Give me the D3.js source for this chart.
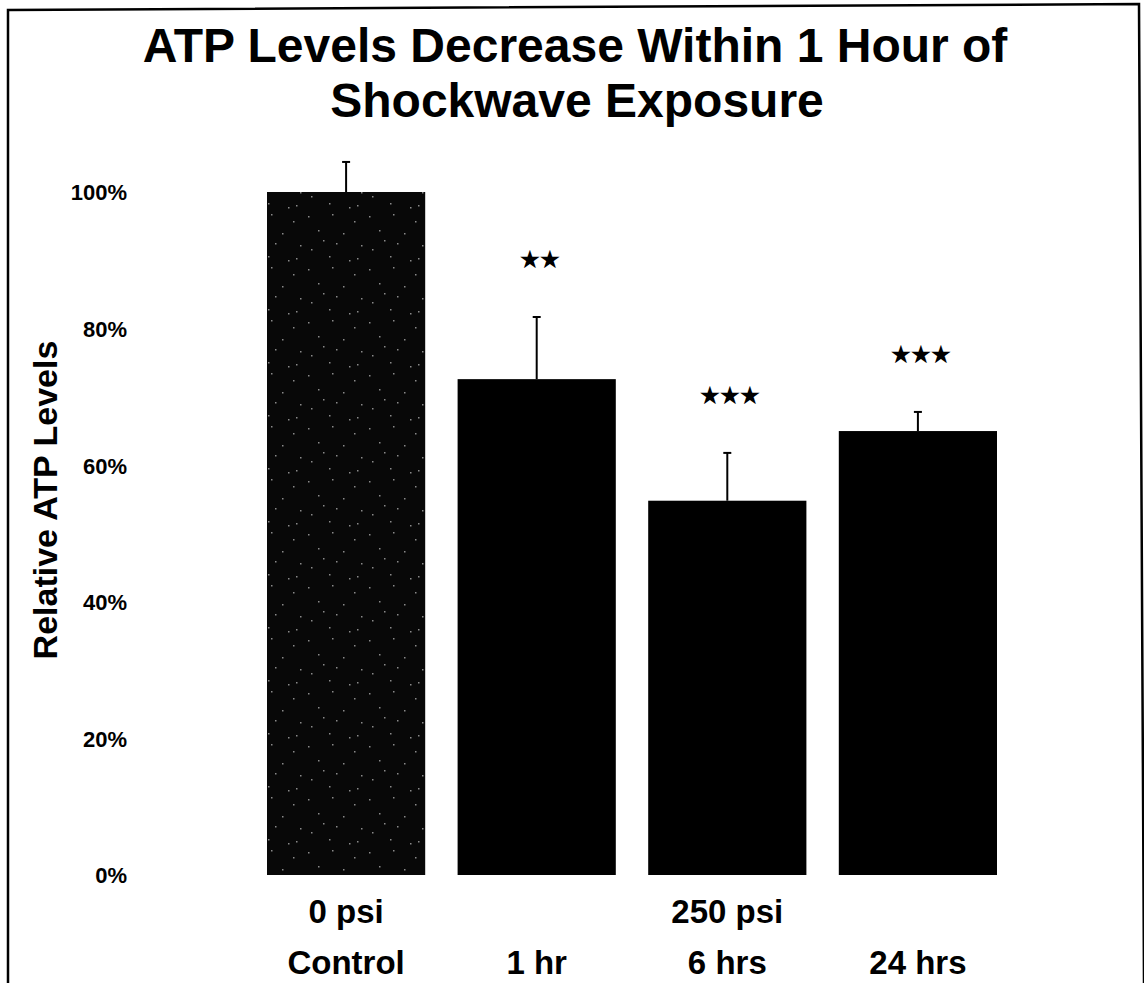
<!DOCTYPE html>
<html>
<head>
<meta charset="utf-8">
<script src="https://cdn.jsdelivr.net/npm/d3@7"></script>
<style>
  html, body { margin: 0; padding: 0; background: #fff; }
  svg { display: block; }
  text { font-family: "Liberation Sans", Arial, Helvetica, sans-serif; font-weight: bold; fill: #000; }
</style>
</head>
<body>
<svg id="chart" width="1144" height="983"></svg>
<script>
// ATP measurements, relative to the unexposed control
const groups = ["Control", "1 hr", "6 hrs", "24 hrs"];
const pressureLabels = ["0 psi", "", "250 psi", ""];
const atpLevels = [100, 72.6, 54.8, 65.0];
const atpErrors = [4.4, 9.1, 7.0, 2.8];
const significance = ["", "★★", "★★★", "★★★"];
const yTicks = [0, 20, 40, 60, 80, 100];

const svg = d3.select("#chart");

// speckled fill for the control bar
const defs = svg.append("defs");
const pat = defs.append("pattern")
  .attr("id", "speckle").attr("patternUnits", "userSpaceOnUse")
  .attr("width", 61).attr("height", 53);
pat.append("rect").attr("width", 61).attr("height", 53).attr("fill", "#080808");
[[3, 4], [27, 2], [49, 9], [13, 18], [38, 21], [56, 33], [6, 37], [24, 44], [44, 48], [31, 31], [18, 28], [52, 46]]
  .forEach(([cx, cy]) => {
    pat.append("rect").attr("x", cx).attr("y", cy).attr("width", 1.5).attr("height", 1.5).attr("fill", "#8a8a8a");
  });

// page frame
svg.append("path")
  .attr("d", "M8,983 L8,10 L1139,4 L1144,983")
  .attr("fill", "none").attr("stroke", "#000").attr("stroke-width", 2.5);

const x = d3.scaleBand().domain(groups).range([267, 997]).paddingInner(0.17).paddingOuter(0);
const y = d3.scaleLinear().domain([0, 100]).range([875, 192]);

// title
const title = svg.append("text").attr("text-anchor", "middle").attr("font-size", 48);
title.append("tspan").attr("x", 575).attr("y", 62).text("ATP Levels Decrease Within 1 Hour of");
title.append("tspan").attr("x", 577).attr("y", 117).text("Shockwave Exposure");

// y axis labels
const yAxis = d3.axisLeft(y).tickValues(yTicks).tickSize(0).tickPadding(0)
  .tickFormat(d => d + "%");
const yg = svg.append("g").attr("transform", "translate(127,0)").call(yAxis);
yg.select(".domain").remove();
yg.selectAll("text")
  .attr("font-family", "'Liberation Sans', Arial, sans-serif")
  .attr("font-weight", "bold").attr("font-size", 22).attr("fill", "#000")
  .attr("dy", "0.36em");

svg.append("text")
  .attr("transform", "translate(57,500) rotate(-90)")
  .attr("text-anchor", "middle").attr("font-size", 34)
  .text("Relative ATP Levels");

// bars
svg.selectAll("rect.bar").data(groups).join("rect")
  .attr("class", "bar")
  .attr("x", d => x(d))
  .attr("y", (d, i) => y(atpLevels[i]))
  .attr("width", x.bandwidth())
  .attr("height", (d, i) => y(0) - y(atpLevels[i]))
  .attr("fill", (d, i) => i === 0 ? "url(#speckle)" : "#000");

// upper error bars
const eb = svg.selectAll("g.err").data(groups).join("g").attr("class", "err")
  .attr("stroke", "#000").attr("stroke-width", 2);
eb.append("line")
  .attr("x1", d => x(d) + x.bandwidth() / 2).attr("x2", d => x(d) + x.bandwidth() / 2)
  .attr("y1", (d, i) => y(atpLevels[i]))
  .attr("y2", (d, i) => y(atpLevels[i] + atpErrors[i]));
eb.append("line")
  .attr("x1", d => x(d) + x.bandwidth() / 2 - 4).attr("x2", d => x(d) + x.bandwidth() / 2 + 4)
  .attr("y1", (d, i) => y(atpLevels[i] + atpErrors[i]))
  .attr("y2", (d, i) => y(atpLevels[i] + atpErrors[i]));

// significance marks
svg.selectAll("text.sig").data(groups).join("text")
  .attr("class", "sig")
  .attr("x", d => x(d) + x.bandwidth() / 2 + 3)
  .attr("y", (d, i) => y(atpLevels[i] + atpErrors[i]) - 50)
  .attr("text-anchor", "middle")
  .attr("font-family", "'DejaVu Sans', sans-serif")
  .attr("font-size", 22)
  .text((d, i) => significance[i]);

// category labels
svg.selectAll("text.psi").data(groups).join("text")
  .attr("class", "psi")
  .attr("x", d => x(d) + x.bandwidth() / 2)
  .attr("y", 923)
  .attr("text-anchor", "middle").attr("font-size", 33)
  .text((d, i) => pressureLabels[i]);

svg.selectAll("text.grp").data(groups).join("text")
  .attr("class", "grp")
  .attr("x", d => x(d) + x.bandwidth() / 2)
  .attr("y", 974)
  .attr("text-anchor", "middle").attr("font-size", 33)
  .text(d => d);
</script>
</body>
</html>
